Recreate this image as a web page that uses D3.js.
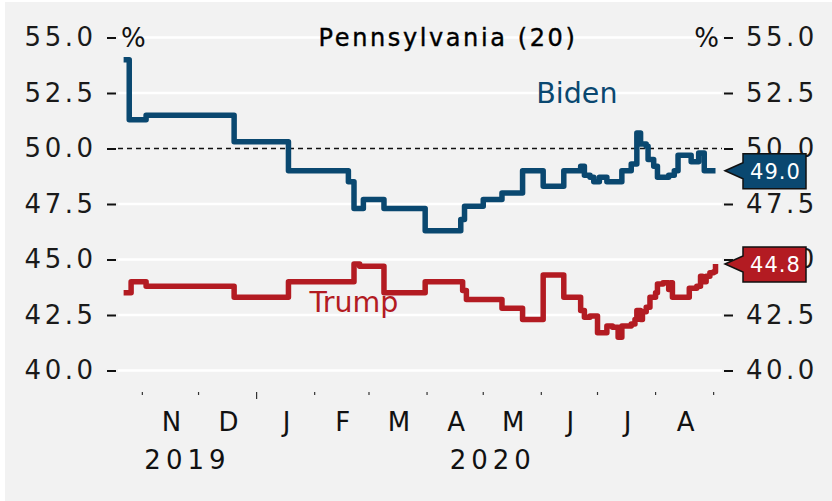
<!DOCTYPE html>
<html>
<head>
<meta charset="utf-8">
<script src="https://cdn.jsdelivr.net/npm/d3@7"></script>
<style>
  html, body { margin: 0; padding: 0; background: #ffffff; }
  svg { display: block; }
  text { font-family: "DejaVu Sans", "Liberation Sans", sans-serif; }
</style>
</head>
<body>
<svg id="chart" width="832" height="501"></svg>
<script>
// ---------- DATA ----------
const title = "Pennsylvania (20)";
const yTicks = [40, 42.5, 45, 47.5, 50, 52.5, 55];
const monthLabels = ["N", "D", "J", "F", "M", "A", "M", "J", "J", "A"];
const yearLabels = ["2019", "2020"];

const bidenDates = ["2019-10-22","2019-10-25","2019-11-03","2019-12-20","2020-01-18","2020-02-19","2020-02-22","2020-02-27","2020-03-09","2020-03-31","2020-04-19","2020-04-21","2020-05-01","2020-05-11","2020-05-22","2020-06-02","2020-06-13","2020-06-22","2020-06-24","2020-06-27","2020-06-29","2020-07-02","2020-07-06","2020-07-14","2020-07-19","2020-07-22","2020-07-24","2020-07-27","2020-07-28","2020-07-31","2020-08-02","2020-08-08","2020-08-11","2020-08-13","2020-08-20","2020-08-24","2020-08-27","2020-09-02"];
const bidenValues = [54.0,51.3,51.5,50.3,49.0,48.5,47.3,47.7,47.3,46.3,46.8,47.4,47.7,48.0,49.0,48.3,49.0,49.2,48.8,48.7,48.5,48.7,48.5,49.0,49.3,50.7,50.2,50.1,49.5,49.2,48.7,48.8,49.0,49.7,49.4,49.8,49.0,49.0];

const trumpDates = ["2019-10-22","2019-10-26","2019-11-03","2019-12-20","2020-01-18","2020-02-22","2020-02-25","2020-03-09","2020-03-31","2020-04-20","2020-04-22","2020-05-11","2020-05-22","2020-06-02","2020-06-13","2020-06-22","2020-06-24","2020-06-27","2020-07-01","2020-07-06","2020-07-09","2020-07-12","2020-07-14","2020-07-19","2020-07-21","2020-07-22","2020-07-24","2020-07-25","2020-07-27","2020-07-29","2020-08-01","2020-08-02","2020-08-05","2020-08-08","2020-08-09","2020-08-10","2020-08-19","2020-08-23","2020-08-25","2020-08-26","2020-08-28","2020-08-30","2020-09-01","2020-09-02"];
const trumpValues = [43.5,44.0,43.8,43.3,44.0,44.8,44.7,43.5,44.0,43.6,43.2,42.8,42.3,44.3,43.3,42.7,42.4,42.45,41.7,42.0,41.95,41.5,42.0,42.1,42.3,42.7,42.3,42.65,42.85,43.3,43.5,43.9,43.95,43.65,43.95,43.3,43.7,43.8,44.25,44.0,44.25,44.4,44.45,44.8];

const seriesNames = ["Biden", "Trump"];
const latestValues = ["49.0", "44.8"];

// ---------- STYLE ----------
const colors = { Biden: "#0a4870", Trump: "#b31b22" };
const W = 832, H = 501;
const parse = d3.timeParse("%Y-%m-%d");

const svg = d3.select("#chart");
svg.append("rect").attr("x", 5).attr("y", 2).attr("width", W - 5).attr("height", H - 2).attr("fill", "#f2f2f2");

const x = d3.scaleTime()
  .domain([parse("2019-10-19"), parse("2020-09-06")])
  .range([118, 723]);
const y = d3.scaleLinear().domain([40, 55]).range([370.5, 37.5]);

// Gridlines
svg.append("g").selectAll("line").data(yTicks.filter(v => v !== 50)).join("line")
  .attr("x1", 118).attr("x2", 722)
  .attr("y1", d => y(d)).attr("y2", d => y(d))
  .attr("stroke", "#ffffff").attr("stroke-width", 2.5);

svg.append("line")
  .attr("x1", 118).attr("x2", 722).attr("y1", y(50)).attr("y2", y(50))
  .attr("stroke", "#111").attr("stroke-width", 1.6).attr("stroke-dasharray", "5,4");

// Left axis
const leftAxis = d3.axisLeft(y).tickValues(yTicks).tickFormat(d3.format(".1f")).tickSize(9).tickPadding(14);
const gL = svg.append("g").attr("transform", "translate(116,0)").call(leftAxis);
gL.select(".domain").remove();
gL.selectAll(".tick line").attr("stroke", "#111").attr("stroke-width", 2);
gL.selectAll(".tick text").attr("font-size", 26).attr("fill", "#1a1a1a")
  .attr("letter-spacing", 3.5).attr("dx", 3.5)
  .style("font-family", '"DejaVu Sans", sans-serif');

const rightAxis = d3.axisRight(y).tickValues(yTicks).tickFormat(d3.format(".1f")).tickSize(9).tickPadding(13);
const gR = svg.append("g").attr("transform", "translate(724,0)").call(rightAxis);
gR.select(".domain").remove();
gR.selectAll(".tick line").attr("stroke", "#111").attr("stroke-width", 2);
gR.selectAll(".tick text").attr("font-size", 26).attr("fill", "#1a1a1a")
  .attr("letter-spacing", 3.5)
  .style("font-family", '"DejaVu Sans", sans-serif');

// % signs
svg.append("text").attr("x", 121).attr("y", y(55)).attr("dy", "0.35em")
  .attr("font-size", 26).attr("fill", "#111").text("%");
svg.append("text").attr("x", 719).attr("y", y(55)).attr("dy", "0.35em")
  .attr("text-anchor", "end").attr("font-size", 26).attr("fill", "#111").text("%");

// Title
svg.append("text").attr("x", 448).attr("y", y(55)).attr("dy", "0.35em")
  .attr("text-anchor", "middle").attr("font-size", 24).attr("letter-spacing", 2.6)
  .attr("fill", "#000").attr("stroke", "#000").attr("stroke-width", 0.4).text(title);

// X axis ticks
const monthTicks = d3.timeMonth.range(parse("2019-11-01"), parse("2020-09-02"));
svg.append("g").selectAll("line").data(monthTicks).join("line")
  .attr("x1", d => x(d)).attr("x2", d => x(d))
  .attr("y1", 392).attr("y2", d => d.getMonth() === 0 ? 399 : 395)
  .attr("stroke", "#333").attr("stroke-width", 1.2);

svg.append("g").selectAll("text").data(monthLabels).join("text")
  .attr("x", (d, i) => (x(monthTicks[i]) + x(monthTicks[i + 1])) / 2 + 1)
  .attr("y", 422).attr("dy", "0.35em").attr("text-anchor", "middle")
  .attr("font-size", 26).attr("fill", "#111").text(d => d);

const yearPos = [parse("2019-11-24"), parse("2020-05-05")];
svg.append("g").selectAll("text").data(yearLabels).join("text")
  .attr("x", (d, i) => x(yearPos[i]) + 2)
  .attr("y", 460).attr("dy", "0.35em").attr("text-anchor", "middle")
  .attr("font-size", 26).attr("letter-spacing", 5).attr("fill", "#111").text(d => d);

// Lines
const line = d3.line().x(d => x(d[0])).y(d => y(d[1])).curve(d3.curveStepAfter);
const bidenData = bidenDates.map((d, i) => [parse(d), bidenValues[i]]);
const trumpData = trumpDates.map((d, i) => [parse(d), trumpValues[i]]);

[["Trump", trumpData], ["Biden", bidenData]].forEach(([name, data]) => {
  svg.append("path").datum(data).attr("d", line)
    .attr("fill", "none").attr("stroke", colors[name]).attr("stroke-width", 5.5)
    .attr("stroke-linejoin", "round").attr("stroke-linecap", "butt");
});

// Series labels
svg.append("text").attr("x", x(parse("2020-06-20"))).attr("y", y(52.5)).attr("dy", "0.35em")
  .attr("text-anchor", "middle").attr("font-size", 28.5).attr("fill", colors.Biden).text(seriesNames[0]);
svg.append("text").attr("x", x(parse("2020-02-22"))).attr("y", y(43.1)).attr("dy", "0.35em")
  .attr("text-anchor", "middle").attr("font-size", 28.5).attr("fill", colors.Trump).text(seriesNames[1]);

// Value tags
[["Biden", bidenValues[bidenValues.length - 1], latestValues[0]],
 ["Trump", trumpValues[trumpValues.length - 1], latestValues[1]]].forEach(([name, v, label]) => {
  const yv = y(v);
  const tip = 725, bx = 743, ex = 806;
  const pts = [[tip, yv], [bx, yv - 8], [bx, yv - 17], [ex, yv - 17], [ex, yv + 18], [bx, yv + 18], [bx, yv + 8]];
  svg.append("path").attr("d", "M" + pts.map(p => p.join(",")).join("L") + "Z")
    .attr("fill", colors[name]).attr("stroke", "#111").attr("stroke-width", 1.5);
  svg.append("text").attr("x", (bx + ex) / 2 + 1).attr("y", yv + 1).attr("dy", "0.35em")
    .attr("text-anchor", "middle").attr("font-size", 21).attr("letter-spacing", 1)
    .attr("fill", "#ffffff").text(label);
});
</script>
</body>
</html>
